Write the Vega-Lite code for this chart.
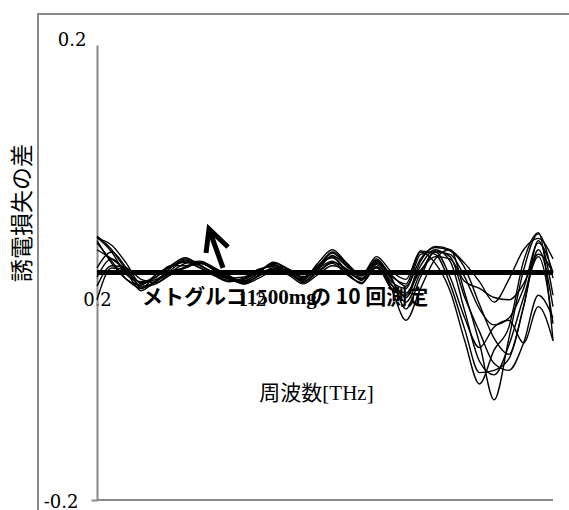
{
  "$schema": "https://vega.github.io/schema/vega-lite/v6.json",
  "width": 456,
  "height": 455,
  "autosize": {"type": "none"},
  "padding": {"left": 97, "top": 45, "right": 16, "bottom": 10},
  "background": "white",
  "config": {"view": {"stroke": null}},
  "datasets": {
    "curves": [
      {"x": 0.2, "c1": 0.032, "c2": 0.030, "c3": 0.026, "c4": -0.012, "c5": -0.024, "c6": 0.020, "c7": 0.004, "c8": 0.031, "c9": -0.004, "c10": 0.028},
      {"x": 0.295, "c1": 0.020, "c2": 0.024, "c3": 0.010, "c4": 0.006, "c5": 0.004, "c6": 0.012, "c7": 0.018, "c8": 0.018, "c9": 0.012, "c10": 0.008},
      {"x": 0.39, "c1": 0.002, "c2": 0.008, "c3": -0.006, "c4": 0.004, "c5": 0.002, "c6": 0.002, "c7": 0.004, "c8": -0.002, "c9": 0.000, "c10": -0.006},
      {"x": 0.485, "c1": -0.012, "c2": -0.010, "c3": -0.014, "c4": -0.006, "c5": -0.014, "c6": -0.009, "c7": -0.013, "c8": -0.008, "c9": -0.016, "c10": -0.011},
      {"x": 0.58, "c1": -0.008, "c2": -0.004, "c3": -0.008, "c4": -0.009, "c5": -0.002, "c6": -0.006, "c7": -0.010, "c8": -0.004, "c9": -0.007, "c10": -0.002},
      {"x": 0.675, "c1": 0.004, "c2": 0.006, "c3": 0.000, "c4": -0.002, "c5": 0.005, "c6": 0.002, "c7": -0.001, "c8": 0.005, "c9": 0.001, "c10": 0.006},
      {"x": 0.77, "c1": 0.012, "c2": 0.006, "c3": 0.008, "c4": 0.004, "c5": 0.010, "c6": 0.011, "c7": 0.005, "c8": 0.009, "c9": 0.004, "c10": 0.013},
      {"x": 0.865, "c1": 0.007, "c2": 0.009, "c3": 0.010, "c4": 0.008, "c5": 0.004, "c6": 0.006, "c7": 0.008, "c8": 0.004, "c9": 0.009, "c10": 0.006},
      {"x": 0.96, "c1": -0.002, "c2": 0.003, "c3": 0.004, "c4": 0.002, "c5": -0.003, "c6": 0.000, "c7": 0.002, "c8": -0.002, "c9": 0.003, "c10": -0.001},
      {"x": 1.055, "c1": -0.007, "c2": -0.004, "c3": -0.003, "c4": -0.005, "c5": -0.008, "c6": -0.005, "c7": -0.006, "c8": -0.008, "c9": -0.003, "c10": -0.006},
      {"x": 1.15, "c1": -0.005, "c2": -0.009, "c3": -0.008, "c4": -0.010, "c5": -0.006, "c6": -0.004, "c7": -0.009, "c8": -0.006, "c9": -0.010, "c10": -0.007},
      {"x": 1.245, "c1": 0.002, "c2": -0.003, "c3": 0.000, "c4": -0.005, "c5": 0.002, "c6": 0.003, "c7": -0.003, "c8": 0.001, "c9": -0.002, "c10": 0.000},
      {"x": 1.34, "c1": 0.007, "c2": 0.003, "c3": 0.008, "c4": 0.001, "c5": 0.006, "c6": 0.005, "c7": 0.003, "c8": 0.007, "c9": 0.004, "c10": 0.009},
      {"x": 1.435, "c1": 0.000, "c2": 0.002, "c3": 0.003, "c4": -0.002, "c5": 0.003, "c6": -0.001, "c7": 0.002, "c8": -0.001, "c9": 0.001, "c10": 0.003},
      {"x": 1.53, "c1": -0.006, "c2": -0.005, "c3": -0.008, "c4": -0.010, "c5": -0.004, "c6": -0.006, "c7": -0.004, "c8": -0.007, "c9": -0.009, "c10": -0.002},
      {"x": 1.625, "c1": 0.005, "c2": 0.003, "c3": 0.002, "c4": -0.002, "c5": 0.006, "c6": 0.008, "c7": 0.001, "c8": 0.006, "c9": 0.000, "c10": 0.004},
      {"x": 1.72, "c1": 0.018, "c2": 0.010, "c3": 0.015, "c4": 0.006, "c5": 0.013, "c6": 0.020, "c7": 0.009, "c8": 0.014, "c9": 0.008, "c10": 0.017},
      {"x": 1.815, "c1": 0.007, "c2": -0.002, "c3": 0.005, "c4": 0.002, "c5": 0.000, "c6": 0.008, "c7": 0.003, "c8": 0.001, "c9": -0.002, "c10": 0.006},
      {"x": 1.91, "c1": -0.005, "c2": -0.009, "c3": -0.003, "c4": -0.006, "c5": -0.010, "c6": -0.002, "c7": -0.007, "c8": -0.006, "c9": -0.009, "c10": -0.003},
      {"x": 2.005, "c1": 0.010, "c2": 0.005, "c3": 0.011, "c4": 0.004, "c5": 0.009, "c6": 0.014, "c7": 0.007, "c8": 0.008, "c9": 0.005, "c10": 0.012},
      {"x": 2.1, "c1": -0.002, "c2": -0.014, "c3": -0.006, "c4": -0.011, "c5": -0.008, "c6": 0.001, "c7": -0.010, "c8": -0.004, "c9": -0.014, "c10": -0.003},
      {"x": 2.195, "c1": -0.012, "c2": -0.042, "c3": -0.022, "c4": -0.018, "c5": -0.014, "c6": -0.006, "c7": -0.026, "c8": -0.032, "c9": -0.020, "c10": -0.010},
      {"x": 2.29, "c1": 0.012, "c2": -0.014, "c3": 0.006, "c4": 0.002, "c5": 0.016, "c6": 0.019, "c7": 0.000, "c8": -0.004, "c9": 0.010, "c10": 0.018},
      {"x": 2.385, "c1": 0.022, "c2": 0.012, "c3": 0.020, "c4": 0.014, "c5": 0.018, "c6": 0.016, "c7": 0.018, "c8": 0.019, "c9": 0.023, "c10": 0.008},
      {"x": 2.48, "c1": 0.019, "c2": 0.020, "c3": 0.010, "c4": 0.012, "c5": -0.004, "c6": -0.010, "c7": 0.016, "c8": 0.014, "c9": 0.020, "c10": -0.016},
      {"x": 2.575, "c1": 0.004, "c2": -0.018, "c3": -0.034, "c4": -0.008, "c5": -0.040, "c6": -0.050, "c7": -0.004, "c8": -0.022, "c9": 0.008, "c10": -0.060},
      {"x": 2.67, "c1": -0.028, "c2": -0.062, "c3": -0.078, "c4": -0.014, "c5": -0.066, "c6": -0.088, "c7": -0.032, "c8": -0.052, "c9": -0.008, "c10": -0.098},
      {"x": 2.765, "c1": -0.058, "c2": -0.112, "c3": -0.090, "c4": -0.022, "c5": -0.048, "c6": -0.086, "c7": -0.046, "c8": -0.080, "c9": -0.026, "c10": -0.068},
      {"x": 2.86, "c1": -0.072, "c2": -0.058, "c3": -0.064, "c4": -0.024, "c5": -0.042, "c6": -0.076, "c7": -0.040, "c8": -0.086, "c9": -0.006, "c10": -0.048},
      {"x": 2.955, "c1": -0.030, "c2": 0.002, "c3": -0.022, "c4": -0.010, "c5": -0.062, "c6": -0.030, "c7": -0.014, "c8": -0.062, "c9": 0.020, "c10": 0.010},
      {"x": 3.05, "c1": 0.028, "c2": 0.034, "c3": 0.014, "c4": 0.016, "c5": -0.030, "c6": 0.020, "c7": 0.026, "c8": -0.020, "c9": 0.030, "c10": 0.035},
      {"x": 3.145, "c1": -0.020, "c2": -0.005, "c3": -0.045, "c4": 0.000, "c5": -0.060, "c6": -0.030, "c7": 0.000, "c8": -0.040, "c9": 0.012, "c10": -0.060}
    ],
    "arrow": [
      {"seg": "head", "o": 1, "x": 0.904, "y": 0.0171},
      {"seg": "head", "o": 2, "x": 0.9235, "y": 0.0382},
      {"seg": "head", "o": 3, "x": 1.046, "y": 0.0224},
      {"seg": "shaft", "o": 1, "x": 0.9235, "y": 0.0382},
      {"seg": "shaft", "o": 2, "x": 1.014, "y": 0.004}
    ]
  },
  "layer": [
    {
      "data": {"values": [{"x1": -0.181, "x2": 4.5, "y1": 0.2273, "y2": -0.3}]},
      "mark": {"type": "rect", "fill": null, "stroke": "#898989", "strokeWidth": 2, "filled": false},
      "encoding": {
        "x": {"field": "x1", "type": "quantitative"},
        "x2": {"field": "x2"},
        "y": {"field": "y1", "type": "quantitative"},
        "y2": {"field": "y2"}
      }
    },
    {
      "data": {"name": "curves"},
      "transform": [{"fold": ["c1", "c2", "c3", "c4", "c5", "c6", "c7", "c8", "c9", "c10"], "as": ["run", "v"]}],
      "mark": {"type": "line", "interpolate": "monotone", "color": "black", "strokeWidth": 1.4},
      "encoding": {
        "x": {
          "field": "x", "type": "quantitative",
          "scale": {"domain": [0.2, 3.145], "nice": false, "zero": false},
          "axis": {
            "orient": "bottom", "offset": -227.5, "domain": false, "ticks": false, "tickSize": 0, "grid": false,
            "values": [0.2, 1.2], "format": ".1f",
            "labelFont": "DejaVu Serif", "labelFontSize": 18, "labelColor": "black",
            "labelBaseline": "middle", "labelPadding": 27.5, "labelFlush": false, "labelOverlap": false,
            "title": "周波数[THz]", "titleFont": "Liberation Serif, Noto Sans CJK JP", "titleFontSize": 21,
            "titleFontWeight": "normal", "titleColor": "black",
            "titleX": 219, "titleY": 120.5, "titleAlign": "center", "titleBaseline": "middle"
          }
        },
        "y": {
          "field": "v", "type": "quantitative",
          "scale": {"domain": [-0.2, 0.2], "nice": false, "zero": false},
          "axis": {
            "values": [-0.2, 0.2], "format": ".1f", "grid": false,
            "labelExpr": "replace(datum.label, '\u2212', '-')",
            "domainColor": "#898989", "domainWidth": 2,
            "tickSize": 6, "tickWidth": 2,
            "tickColor": {"condition": {"test": "datum.value < 0", "value": "#898989"}, "value": "transparent"},
            "labelFont": "DejaVu Serif", "labelFontSize": 18, "labelColor": "black",
            "labelPadding": {"condition": {"test": "datum.value < 0", "value": 13}, "value": 5},
            "labelOffset": {"condition": {"test": "datum.value < 0", "value": 2}, "value": -5},
            "labelFlush": false, "labelOverlap": false,
            "title": "誘電損失の差", "titleFont": "Noto Sans CJK JP", "titleFontSize": 23,
            "titleFontWeight": "normal", "titleColor": "black",
            "titleX": -75, "titleY": 167.5, "titleAngle": -90, "titleAlign": "center", "titleBaseline": "middle"
          }
        },
        "detail": {"field": "run", "type": "nominal"}
      }
    },
    {
      "data": {"values": [{"v": -0.2}]},
      "mark": {"type": "rule", "color": "#898989", "strokeWidth": 2},
      "encoding": {"y": {"field": "v", "type": "quantitative"}}
    },
    {
      "data": {"values": [{"v": 0}]},
      "mark": {"type": "rule", "color": "black", "strokeWidth": 5},
      "encoding": {"y": {"field": "v", "type": "quantitative"}}
    },
    {
      "data": {"name": "arrow"},
      "mark": {"type": "line", "color": "black", "strokeWidth": 5, "strokeCap": "butt", "strokeJoin": "miter"},
      "encoding": {
        "x": {"field": "x", "type": "quantitative"},
        "y": {"field": "y", "type": "quantitative"},
        "detail": {"field": "seg", "type": "nominal"},
        "order": {"field": "o", "type": "quantitative"}
      }
    },
    {
      "data": {"values": [{"label": "メトグルコ1500mg", "x": 0.491, "y": -0.0224}]},
      "mark": {"type": "text", "align": "left", "baseline": "middle", "font": "Liberation Serif, Noto Sans CJK JP", "fontSize": 21, "fontWeight": "bold", "color": "black"},
      "encoding": {
        "x": {"field": "x", "type": "quantitative"},
        "y": {"field": "y", "type": "quantitative"},
        "text": {"field": "label"}
      }
    },
    {
      "data": {"values": [{"label": "の 10 回測定", "x": 1.576, "y": -0.0224}]},
      "mark": {"type": "text", "align": "left", "baseline": "middle", "font": "Noto Sans CJK JP", "fontSize": 21, "fontWeight": "bold", "color": "black"},
      "encoding": {
        "x": {"field": "x", "type": "quantitative"},
        "y": {"field": "y", "type": "quantitative"},
        "text": {"field": "label"}
      }
    }
  ]
}
